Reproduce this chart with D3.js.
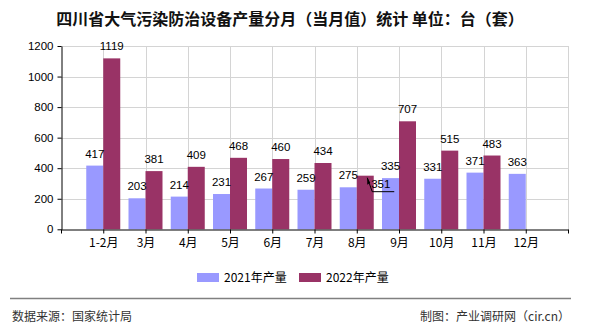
<!DOCTYPE html>
<html><head><meta charset="utf-8">
<script src="https://cdn.jsdelivr.net/npm/d3@7"></script>
<style>body{margin:0;background:#fff}svg{display:block}</style>
</head><body>
<svg id="c" width="590" height="330"></svg>
<script>
const categories = ["1-2月","3月","4月","5月","6月","7月","8月","9月","10月","11月","12月"];
const values2021 = [417,203,214,231,267,259,275,335,331,371,363];
const values2022 = [1119,381,409,468,460,434,351,707,515,483,null];
const yTicks = [0,200,400,600,800,1000,1200];
const seriesNames = ["2021年产量","2022年产量"];
const colors = ["#9999FF","#993366"];
const titleText = "四川省大气污染防治设备产量分月（当月值）统计 单位：台（套）";
const sourceText = "数据来源：国家统计局";
const creditText = "制图：产业调研网（cir.cn）";

const svg = d3.select("#c");
const L=61, R=568, T=46, B=229.3;
const x = d3.scaleLinear().domain([0,categories.length+1]).range([L,R]);
const y = d3.scaleLinear().domain([0,1200]).range([B,T]);
const bw = 17;
const numFont = "'Liberation Sans', Arial, sans-serif";
const cjk = "'Noto Sans CJK SC', 'Noto Sans', sans-serif";

// title
svg.append("text").attr("x",290).attr("y",25).attr("text-anchor","middle")
  .attr("font-family",cjk).attr("font-size",16).attr("font-weight","bold").attr("fill","#111")
  .text(titleText);

// grid
const g = svg.append("g");
yTicks.forEach(t=>{ if(t>0) g.append("line").attr("x1",L).attr("x2",R).attr("y1",Math.round(y(t))+0.5).attr("y2",Math.round(y(t))+0.5).attr("stroke","#d4d4d4"); });
d3.range(1,categories.length+2).forEach(i=>{
  g.append("line").attr("x1",Math.round(x(i))+0.5).attr("x2",Math.round(x(i))+0.5).attr("y1",T).attr("y2",B).attr("stroke","#d4d4d4");
});

// bars
const idx = d3.range(categories.length);
svg.append("g").selectAll("rect").data(idx.filter(i=>values2021[i]!=null)).join("rect")
  .attr("x",i=>x(i+1)-bw).attr("width",bw)
  .attr("y",i=>y(values2021[i])).attr("height",i=>B-y(values2021[i]))
  .attr("fill",colors[0]);
svg.append("g").selectAll("rect").data(idx.filter(i=>values2022[i]!=null)).join("rect")
  .attr("x",i=>x(i+1)).attr("width",bw)
  .attr("y",i=>y(values2022[i])).attr("height",i=>B-y(values2022[i]))
  .attr("fill",colors[1]);

// axes
const yAxis = svg.append("g").attr("transform",`translate(${L+0.5},0)`)
  .call(d3.axisLeft(y).tickValues(yTicks).tickSize(4).tickPadding(4).tickSizeOuter(0).tickFormat(d3.format("d")));
yAxis.selectAll("text").attr("font-family",numFont).attr("font-size",11.5).attr("fill","#000");
yAxis.selectAll("line,path").attr("stroke","#000");

const xAxis = svg.append("g").attr("transform",`translate(0,${Math.round(B)+0.5})`)
  .call(d3.axisBottom(x).tickValues(d3.range(0,categories.length+2)).tickSize(4).tickPadding(5).tickSizeOuter(0)
    .tickFormat(d=> (d>=1 && d<=categories.length)? categories[d-1] : ""));
xAxis.selectAll("text").attr("font-family",cjk).attr("font-size",12).attr("fill","#000");
xAxis.selectAll("line,path").attr("stroke","#000");

// value labels
const lab = svg.append("g").attr("font-family",numFont).attr("font-size",11.5).attr("fill","#000").attr("text-anchor","middle");
idx.forEach(i=>{
  if(values2021[i]!=null) lab.append("text").attr("x",x(i+1)-bw/2).attr("y",y(values2021[i])-8).text(values2021[i]);
  if(values2022[i]!=null){
    if(i===6){
      const bx = x(i+1)+bw/2+2, by=y(values2022[i])+2;
      lab.append("text").attr("x",x(i+1)+24).attr("y",by+10).text(values2022[i]);
      svg.append("path").attr("d",`M${bx},${by} L${bx+5},${by+14} L${bx+27},${by+14}`).attr("fill","none").attr("stroke","#000").attr("stroke-width",1);
      svg.append("path").attr("d",`M${bx},${by} l0,7 l3,-2 z`).attr("fill","#000");
    } else {
      lab.append("text").attr("x",x(i+1)+bw/2).attr("y",y(values2022[i])-8).text(values2022[i]);
    }
  }
});

// legend
const lg = svg.append("g");
[[197,224],[299,326]].forEach((p,k)=>{
  lg.append("rect").attr("x",p[0]).attr("y",273).attr("width",22).attr("height",9).attr("fill",colors[k]);
  lg.append("text").attr("x",p[1]).attr("y",282).attr("font-family",cjk).attr("font-size",12).attr("fill","#000").text(seriesNames[k]);
});

// footer
svg.append("line").attr("x1",10).attr("x2",571).attr("y1",298.5).attr("y2",298.5).attr("stroke","#808080").attr("stroke-width",1.5);
svg.append("text").attr("x",12).attr("y",321).attr("font-family",cjk).attr("font-size",12).attr("fill","#333").text(sourceText);
svg.append("text").attr("x",570).attr("y",321).attr("text-anchor","end").attr("font-family",cjk).attr("font-size",12).attr("fill","#333").text(creditText);
</script>
</body></html>
